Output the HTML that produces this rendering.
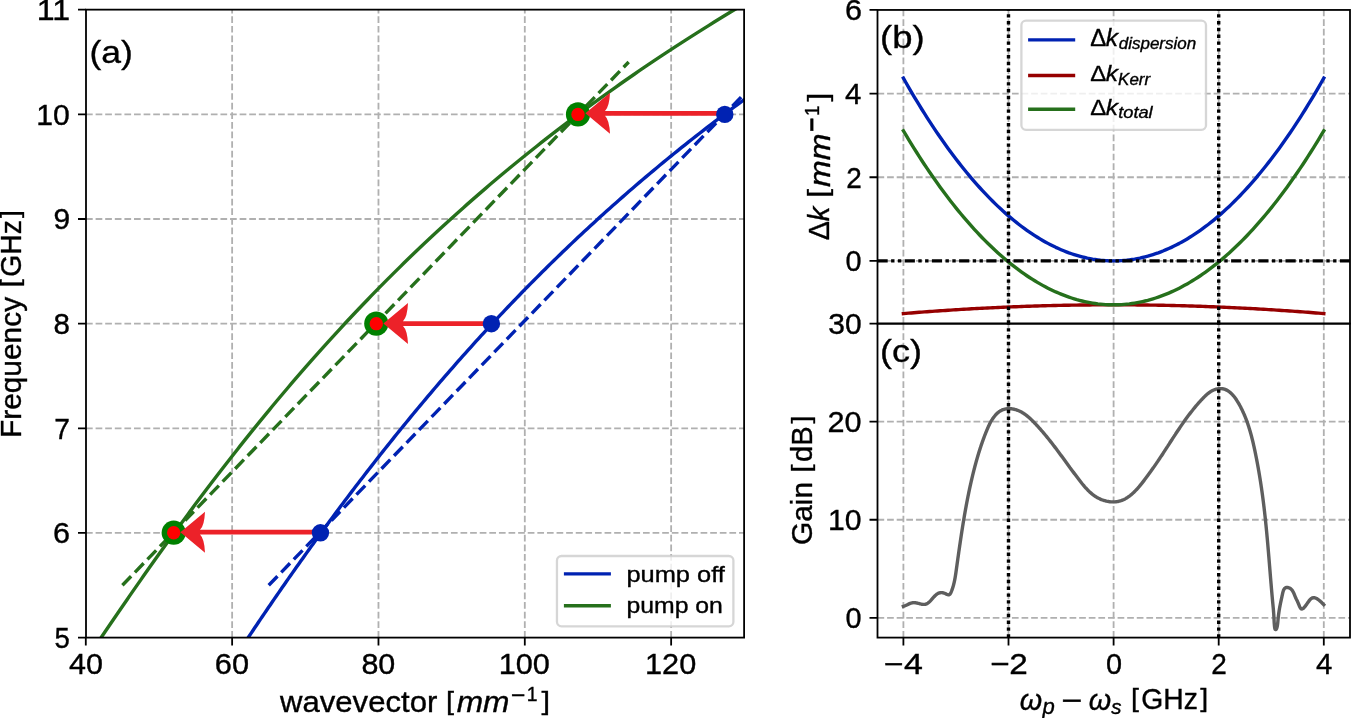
<!DOCTYPE html><html><head><meta charset="utf-8"><title>figure</title><style>html,body{margin:0;padding:0;background:#fff;}svg{display:block;}text{font-family:"Liberation Sans",sans-serif;}svg{will-change:transform;}</style></head><body><svg width="1351" height="718" viewBox="0 0 1351 718">
<defs>
<clipPath id="cl"><rect x="86.0" y="9.65" width="658.1" height="627.95"/></clipPath>
<clipPath id="cb"><rect x="877.5" y="9.95" width="472.5" height="313.65000000000003"/></clipPath>
<clipPath id="cc"><rect x="877.5" y="323.6" width="472.5" height="314.0"/></clipPath>
</defs>
<rect width="1351" height="718" fill="#fff"/>
<g>
<path d="M232.13,637.6V9.65" stroke="#b0b0b0" stroke-width="1.81" stroke-dasharray="6.70 2.903" fill="none"/>
<path d="M378.47,637.6V9.65" stroke="#b0b0b0" stroke-width="1.81" stroke-dasharray="6.70 2.903" fill="none"/>
<path d="M524.8,637.6V9.65" stroke="#b0b0b0" stroke-width="1.81" stroke-dasharray="6.70 2.903" fill="none"/>
<path d="M671.14,637.6V9.65" stroke="#b0b0b0" stroke-width="1.81" stroke-dasharray="6.70 2.903" fill="none"/>
<path d="M86.0,532.95H744.1" stroke="#b0b0b0" stroke-width="1.81" stroke-dasharray="6.70 2.903" fill="none"/>
<path d="M86.0,428.3H744.1" stroke="#b0b0b0" stroke-width="1.81" stroke-dasharray="6.70 2.903" fill="none"/>
<path d="M86.0,323.65H744.1" stroke="#b0b0b0" stroke-width="1.81" stroke-dasharray="6.70 2.903" fill="none"/>
<path d="M86.0,219H744.1" stroke="#b0b0b0" stroke-width="1.81" stroke-dasharray="6.70 2.903" fill="none"/>
<path d="M86.0,114.35H744.1" stroke="#b0b0b0" stroke-width="1.81" stroke-dasharray="6.70 2.903" fill="none"/>
</g>
<g clip-path="url(#cl)" fill="none" stroke-width="3.4">
<path d="M241.26,648.06L243.17,645.17L245.09,642.28L247.00,639.39L248.93,636.50L250.86,633.60L252.79,630.71L254.73,627.82L256.67,624.93L258.62,622.03L260.57,619.14L262.52,616.25L264.49,613.36L266.45,610.46L268.42,607.57L270.40,604.68L272.38,601.79L274.37,598.90L276.36,596.00L278.35,593.11L280.35,590.22L282.36,587.33L284.37,584.43L286.39,581.54L288.41,578.65L290.43,575.76L292.46,572.86L294.50,569.97L296.54,567.08L298.59,564.19L300.64,561.29L302.70,558.40L304.76,555.51L306.83,552.62L308.90,549.73L310.98,546.83L313.07,543.94L315.16,541.05L317.25,538.16L319.35,535.26L321.46,532.37L323.57,529.48L325.69,526.59L327.81,523.69L329.94,520.80L332.08,517.91L334.22,515.02L336.37,512.13L338.52,509.23L340.68,506.34L342.85,503.45L345.02,500.56L347.20,497.66L349.38,494.77L351.57,491.88L353.77,488.99L355.98,486.09L358.19,483.20L360.40,480.31L362.63,477.42L364.86,474.52L367.09,471.63L369.34,468.74L371.59,465.85L373.84,462.96L376.11,460.06L378.38,457.17L380.66,454.28L382.94,451.39L385.24,448.49L387.54,445.60L389.85,442.71L392.16,439.82L394.48,436.92L396.81,434.03L399.15,431.14L401.50,428.25L403.85,425.36L406.21,422.46L408.58,419.57L410.96,416.68L413.35,413.79L415.74,410.89L418.14,408.00L420.55,405.11L422.97,402.22L425.40,399.32L427.84,396.43L430.28,393.54L432.74,390.65L435.20,387.75L437.67,384.86L440.16,381.97L442.65,379.08L445.15,376.19L447.65,373.29L450.17,370.40L452.70,367.51L455.24,364.62L457.79,361.72L460.34,358.83L462.91,355.94L465.49,353.05L468.08,350.15L470.67,347.26L473.28,344.37L475.90,341.48L478.53,338.58L481.17,335.69L483.82,332.80L486.48,329.91L489.15,327.02L491.84,324.12L494.53,321.23L497.24,318.34L499.96,315.45L502.69,312.55L505.43,309.66L508.18,306.77L510.94,303.88L513.72,300.98L516.51,298.09L519.31,295.20L522.12,292.31L524.95,289.42L527.78,286.52L530.63,283.63L533.50,280.74L536.37,277.85L539.26,274.95L542.17,272.06L545.08,269.17L548.01,266.28L550.95,263.38L553.91,260.49L556.88,257.60L559.87,254.71L562.86,251.81L565.88,248.92L568.90,246.03L571.95,243.14L575.00,240.25L578.07,237.35L581.16,234.46L584.26,231.57L587.38,228.68L590.51,225.78L593.65,222.89L596.82,220.00L599.99,217.11L603.19,214.21L606.40,211.32L609.62,208.43L612.87,205.54L616.13,202.65L619.40,199.75L622.69,196.86L626.00,193.97L629.33,191.08L632.67,188.18L636.03,185.29L639.41,182.40L642.81,179.51L646.22,176.61L649.65,173.72L653.10,170.83L656.57,167.94L660.06,165.04L663.57,162.15L667.09,159.26L670.63,156.37L674.19,153.48L677.78,150.58L681.38,147.69L685.00,144.80L688.64,141.91L692.30,139.01L695.98,136.12L699.68,133.23L703.40,130.34L707.14,127.44L710.90,124.55L714.69,121.66L718.49,118.77L722.32,115.88L726.16,112.98L730.03,110.09L733.92,107.20L737.83,104.31L741.77,101.41L745.73,98.52L749.71,95.63L753.71,92.74L757.73,89.84L761.78,86.95L765.85,84.06L769.95,81.17L774.07,78.27L778.21,75.38L782.38,72.49" stroke="#0022b2" stroke-linejoin="round"/>
<path d="M268.72,585.27L775.03,62.02" stroke="#0022b2" stroke-dasharray="12.58 5.44"/>
<path d="M94.09,648.06L96.28,644.80L98.47,641.54L100.67,638.28L102.87,635.02L105.07,631.76L107.28,628.50L109.49,625.24L111.71,621.98L113.93,618.72L116.16,615.46L118.39,612.20L120.62,608.94L122.86,605.68L125.11,602.42L127.36,599.16L129.61,595.90L131.87,592.64L134.14,589.38L136.41,586.12L138.69,582.86L140.97,579.60L143.26,576.34L145.55,573.07L147.85,569.81L150.15,566.55L152.46,563.29L154.77,560.03L157.10,556.77L159.42,553.51L161.76,550.25L164.09,546.99L166.44,543.73L168.79,540.47L171.15,537.21L173.51,533.95L175.89,530.69L178.26,527.43L180.65,524.17L183.04,520.91L185.44,517.65L187.84,514.39L190.26,511.13L192.68,507.87L195.10,504.61L197.54,501.34L199.98,498.08L202.43,494.82L204.89,491.56L207.36,488.30L209.83,485.04L212.31,481.78L214.80,478.52L217.30,475.26L219.80,472.00L222.32,468.74L224.84,465.48L227.38,462.22L229.92,458.96L232.47,455.70L235.03,452.44L237.60,449.18L240.17,445.92L242.76,442.66L245.36,439.40L247.96,436.14L250.58,432.88L253.21,429.61L255.84,426.35L258.49,423.09L261.15,419.83L263.81,416.57L266.49,413.31L269.18,410.05L271.88,406.79L274.59,403.53L277.31,400.27L280.05,397.01L282.79,393.75L285.55,390.49L288.31,387.23L291.09,383.97L293.88,380.71L296.69,377.45L299.50,374.19L302.33,370.93L305.17,367.67L308.03,364.41L310.89,361.15L313.77,357.88L316.67,354.62L319.57,351.36L322.49,348.10L325.42,344.84L328.37,341.58L331.33,338.32L334.31,335.06L337.30,331.80L340.30,328.54L343.32,325.28L346.35,322.02L349.40,318.76L352.46,315.50L355.54,312.24L358.63,308.98L361.74,305.72L364.87,302.46L368.01,299.20L371.17,295.94L374.34,292.68L377.53,289.42L380.73,286.15L383.96,282.89L387.20,279.63L390.46,276.37L393.73,273.11L397.02,269.85L400.33,266.59L403.66,263.33L407.01,260.07L410.37,256.81L413.75,253.55L417.16,250.29L420.58,247.03L424.02,243.77L427.47,240.51L430.95,237.25L434.45,233.99L437.97,230.73L441.50,227.47L445.06,224.21L448.64,220.95L452.24,217.69L455.86,214.42L459.50,211.16L463.16,207.90L466.84,204.64L470.55,201.38L474.28,198.12L478.03,194.86L481.80,191.60L485.59,188.34L489.41,185.08L493.25,181.82L497.11,178.56L500.99,175.30L504.90,172.04L508.84,168.78L512.79,165.52L516.78,162.26L520.78,159.00L524.81,155.74L528.87,152.48L532.95,149.22L537.05,145.96L541.19,142.69L545.34,139.43L549.53,136.17L553.74,132.91L557.97,129.65L562.23,126.39L566.52,123.13L570.84,119.87L575.19,116.61L579.56,113.35L583.96,110.09L588.39,106.83L592.84,103.57L597.33,100.31L601.84,97.05L606.39,93.79L610.96,90.53L615.56,87.27L620.19,84.01L624.85,80.75L629.55,77.49L634.27,74.23L639.02,70.96L643.81,67.70L648.63,64.44L653.48,61.18L658.36,57.92L663.27,54.66L668.21,51.40L673.19,48.14L678.20,44.88L683.25,41.62L688.32,38.36L693.43,35.10L698.58,31.84L703.76,28.58L708.97,25.32L714.22,22.06L719.51,18.80L724.82,15.54L730.18,12.28L735.57,9.02L741.00,5.76L746.46,2.50L751.96,-0.76" stroke="#26701c" stroke-linejoin="round"/>
<path d="M122.38,585.27L628.70,62.02" stroke="#26701c" stroke-dasharray="12.58 5.44"/>
</g>
<circle cx="173.7" cy="532.7" r="12.1" fill="#008000"/>
<circle cx="173.7" cy="532.7" r="6.7" fill="#ff0000"/>
<circle cx="376.3" cy="323.65" r="12.1" fill="#008000"/>
<circle cx="376.3" cy="323.65" r="6.7" fill="#ff0000"/>
<circle cx="578.0" cy="114.4" r="12.1" fill="#008000"/>
<circle cx="578.0" cy="114.4" r="6.7" fill="#ff0000"/>
<path d="M180.4,532.2L205,511.7Q204.4,525.7 200,529.85L320.45,529.85L320.45,534.55L200,534.55Q204.4,538.7 205,552.7Z" fill="#ec2229"/>
<path d="M383.4,323.6L408,303.1Q407.4,317.1 403,321.25L491.4,321.25L491.4,325.95L403,325.95Q407.4,330.1 408,344.1Z" fill="#ec2229"/>
<path d="M585.4,113.3L610,92.8Q609.4,106.8 605,110.95L724.8,110.95L724.8,115.65L605,115.65Q609.4,119.8 610,133.8Z" fill="#ec2229"/>
<circle cx="320.45" cy="532.8" r="8.7" fill="#0022b2"/>
<circle cx="491.4" cy="323.7" r="8.7" fill="#0022b2"/>
<circle cx="724.8" cy="114.4" r="8.7" fill="#0022b2"/>
<rect x="556.96" y="556.0" width="176.44" height="70.4" rx="4.6" fill="#fff" fill-opacity="0.8" stroke="#cccccc" stroke-opacity="0.8" stroke-width="2.29"/>
<path d="M563.9,573.9H610.9" stroke="#0022b2" stroke-width="3.4"/>
<path d="M563.9,605.7H610.9" stroke="#26701c" stroke-width="3.4"/>
<rect x="86.0" y="9.65" width="658.1" height="627.95" fill="none" stroke="#000" stroke-width="1.8" stroke-linejoin="miter"/>
<path d="M78.0,637.6H86.0M78.0,532.95H86.0M78.0,428.3H86.0M78.0,323.65H86.0M78.0,219H86.0M78.0,114.35H86.0M78.0,9.7H86.0M85.8,637.6V645.6M232.13,637.6V645.6M378.47,637.6V645.6M524.8,637.6V645.6M671.14,637.6V645.6" stroke="#000" stroke-width="1.8"/>
<path d="M903.4,323.6V9.95" stroke="#b0b0b0" stroke-width="1.81" stroke-dasharray="6.70 2.903" fill="none"/><path d="M903.4,637.6V323.6" stroke="#b0b0b0" stroke-width="1.81" stroke-dasharray="6.70 2.903" fill="none"/><path d="M1113.6,323.6V9.95" stroke="#b0b0b0" stroke-width="1.81" stroke-dasharray="6.70 2.903" fill="none"/><path d="M1113.6,637.6V323.6" stroke="#b0b0b0" stroke-width="1.81" stroke-dasharray="6.70 2.903" fill="none"/><path d="M1323.8,323.6V9.95" stroke="#b0b0b0" stroke-width="1.81" stroke-dasharray="6.70 2.903" fill="none"/><path d="M1323.8,637.6V323.6" stroke="#b0b0b0" stroke-width="1.81" stroke-dasharray="6.70 2.903" fill="none"/><path d="M1008.5,323.6V9.95" stroke="#b0b0b0" stroke-width="1.81" stroke-dasharray="6.70 2.903" fill="none"/><path d="M1008.5,637.6V323.6" stroke="#b0b0b0" stroke-width="1.81" stroke-dasharray="6.70 2.903" fill="none"/><path d="M1218.7,323.6V9.95" stroke="#b0b0b0" stroke-width="1.81" stroke-dasharray="6.70 2.903" fill="none"/><path d="M1218.7,637.6V323.6" stroke="#b0b0b0" stroke-width="1.81" stroke-dasharray="6.70 2.903" fill="none"/><path d="M877.5,260.9H1350.0" stroke="#b0b0b0" stroke-width="1.81" stroke-dasharray="6.70 2.903" fill="none"/><path d="M877.5,177.25H1350.0" stroke="#b0b0b0" stroke-width="1.81" stroke-dasharray="6.70 2.903" fill="none"/><path d="M877.5,93.6H1350.0" stroke="#b0b0b0" stroke-width="1.81" stroke-dasharray="6.70 2.903" fill="none"/><path d="M877.5,617.85H1350.0" stroke="#b0b0b0" stroke-width="1.81" stroke-dasharray="6.70 2.903" fill="none"/><path d="M877.5,519.77H1350.0" stroke="#b0b0b0" stroke-width="1.81" stroke-dasharray="6.70 2.903" fill="none"/><path d="M877.5,421.68H1350.0" stroke="#b0b0b0" stroke-width="1.81" stroke-dasharray="6.70 2.903" fill="none"/>
<g clip-path="url(#cb)" fill="none" stroke-width="3.4" stroke-linejoin="round" stroke-linecap="square">
<path d="M903.40,78.14L906.03,82.77L908.65,87.34L911.28,91.84L913.91,96.28L916.54,100.66L919.16,104.98L921.79,109.24L924.42,113.43L927.05,117.56L929.67,121.63L932.30,125.64L934.93,129.59L937.56,133.48L940.18,137.31L942.81,141.08L945.44,144.78L948.07,148.43L950.69,152.01L953.32,155.54L955.95,159.00L958.58,162.41L961.20,165.75L963.83,169.04L966.46,172.27L969.09,175.43L971.71,178.54L974.34,181.59L976.97,184.58L979.60,187.51L982.22,190.39L984.85,193.20L987.48,195.95L990.11,198.65L992.73,201.29L995.36,203.87L997.99,206.39L1000.62,208.86L1003.24,211.26L1005.87,213.61L1008.50,215.90L1011.13,218.13L1013.75,220.31L1016.38,222.43L1019.01,224.49L1021.64,226.49L1024.26,228.43L1026.89,230.32L1029.52,232.15L1032.15,233.93L1034.77,235.64L1037.40,237.30L1040.03,238.91L1042.66,240.45L1045.28,241.94L1047.91,243.38L1050.54,244.75L1053.17,246.07L1055.79,247.34L1058.42,248.54L1061.05,249.69L1063.68,250.79L1066.30,251.82L1068.93,252.81L1071.56,253.73L1074.19,254.60L1076.81,255.41L1079.44,256.17L1082.07,256.87L1084.70,257.51L1087.32,258.10L1089.95,258.63L1092.58,259.11L1095.21,259.53L1097.83,259.89L1100.46,260.20L1103.09,260.45L1105.72,260.65L1108.35,260.79L1110.97,260.87L1113.60,260.90L1116.23,260.87L1118.86,260.79L1121.48,260.65L1124.11,260.45L1126.74,260.20L1129.37,259.89L1131.99,259.53L1134.62,259.11L1137.25,258.63L1139.88,258.10L1142.50,257.51L1145.13,256.87L1147.76,256.17L1150.38,255.41L1153.01,254.60L1155.64,253.73L1158.27,252.81L1160.89,251.82L1163.52,250.79L1166.15,249.69L1168.78,248.54L1171.40,247.34L1174.03,246.07L1176.66,244.75L1179.29,243.38L1181.91,241.94L1184.54,240.45L1187.17,238.91L1189.80,237.30L1192.42,235.64L1195.05,233.93L1197.68,232.15L1200.31,230.32L1202.93,228.43L1205.56,226.49L1208.19,224.49L1210.82,222.43L1213.44,220.31L1216.07,218.13L1218.70,215.90L1221.33,213.61L1223.95,211.26L1226.58,208.86L1229.21,206.39L1231.84,203.87L1234.46,201.29L1237.09,198.65L1239.72,195.95L1242.35,193.20L1244.97,190.39L1247.60,187.51L1250.23,184.58L1252.86,181.59L1255.48,178.54L1258.11,175.43L1260.74,172.27L1263.37,169.04L1265.99,165.75L1268.62,162.41L1271.25,159.00L1273.88,155.54L1276.50,152.01L1279.13,148.43L1281.76,144.78L1284.39,141.08L1287.01,137.31L1289.64,133.48L1292.27,129.59L1294.90,125.64L1297.52,121.63L1300.15,117.56L1302.78,113.43L1305.41,109.24L1308.03,104.98L1310.66,100.66L1313.29,96.28L1315.92,91.84L1318.54,87.34L1321.17,82.77L1323.80,78.14" stroke="#0022b2"/>
<path d="M903.40,313.58L906.03,313.36L908.65,313.15L911.28,312.94L913.91,312.73L916.54,312.52L919.16,312.32L921.79,312.12L924.42,311.92L927.05,311.72L929.67,311.53L932.30,311.34L934.93,311.15L937.56,310.97L940.18,310.78L942.81,310.60L945.44,310.43L948.07,310.25L950.69,310.08L953.32,309.91L955.95,309.75L958.58,309.58L961.20,309.42L963.83,309.27L966.46,309.11L969.09,308.96L971.71,308.81L974.34,308.66L976.97,308.52L979.60,308.38L982.22,308.24L984.85,308.11L987.48,307.97L990.11,307.84L992.73,307.71L995.36,307.59L997.99,307.47L1000.62,307.35L1003.24,307.23L1005.87,307.12L1008.50,307.01L1011.13,306.90L1013.75,306.79L1016.38,306.69L1019.01,306.59L1021.64,306.49L1024.26,306.40L1026.89,306.31L1029.52,306.22L1032.15,306.13L1034.77,306.05L1037.40,305.97L1040.03,305.89L1042.66,305.81L1045.28,305.74L1047.91,305.67L1050.54,305.61L1053.17,305.54L1055.79,305.48L1058.42,305.42L1061.05,305.36L1063.68,305.31L1066.30,305.26L1068.93,305.21L1071.56,305.17L1074.19,305.12L1076.81,305.08L1079.44,305.05L1082.07,305.01L1084.70,304.98L1087.32,304.95L1089.95,304.93L1092.58,304.90L1095.21,304.88L1097.83,304.87L1100.46,304.85L1103.09,304.84L1105.72,304.83L1108.35,304.82L1110.97,304.82L1113.60,304.82L1116.23,304.82L1118.86,304.82L1121.48,304.83L1124.11,304.84L1126.74,304.85L1129.37,304.87L1131.99,304.88L1134.62,304.90L1137.25,304.93L1139.88,304.95L1142.50,304.98L1145.13,305.01L1147.76,305.05L1150.38,305.08L1153.01,305.12L1155.64,305.17L1158.27,305.21L1160.89,305.26L1163.52,305.31L1166.15,305.36L1168.78,305.42L1171.40,305.48L1174.03,305.54L1176.66,305.61L1179.29,305.67L1181.91,305.74L1184.54,305.81L1187.17,305.89L1189.80,305.97L1192.42,306.05L1195.05,306.13L1197.68,306.22L1200.31,306.31L1202.93,306.40L1205.56,306.49L1208.19,306.59L1210.82,306.69L1213.44,306.79L1216.07,306.90L1218.70,307.01L1221.33,307.12L1223.95,307.23L1226.58,307.35L1229.21,307.47L1231.84,307.59L1234.46,307.71L1237.09,307.84L1239.72,307.97L1242.35,308.11L1244.97,308.24L1247.60,308.38L1250.23,308.52L1252.86,308.66L1255.48,308.81L1258.11,308.96L1260.74,309.11L1263.37,309.27L1265.99,309.42L1268.62,309.58L1271.25,309.75L1273.88,309.91L1276.50,310.08L1279.13,310.25L1281.76,310.43L1284.39,310.60L1287.01,310.78L1289.64,310.97L1292.27,311.15L1294.90,311.34L1297.52,311.53L1300.15,311.72L1302.78,311.92L1305.41,312.12L1308.03,312.32L1310.66,312.52L1313.29,312.73L1315.92,312.94L1318.54,313.15L1321.17,313.36L1323.80,313.58" stroke="#960000"/>
<path d="M903.40,130.82L906.03,135.23L908.65,139.59L911.28,143.88L913.91,148.11L916.54,152.28L919.16,156.40L921.79,160.45L924.42,164.45L927.05,168.38L929.67,172.26L932.30,176.08L934.93,179.84L937.56,183.55L940.18,187.19L942.81,190.78L945.44,194.31L948.07,197.78L950.69,201.19L953.32,204.55L955.95,207.85L958.58,211.09L961.20,214.28L963.83,217.41L966.46,220.48L969.09,223.49L971.71,226.45L974.34,229.36L976.97,232.20L979.60,234.99L982.22,237.73L984.85,240.40L987.48,243.03L990.11,245.59L992.73,248.10L995.36,250.56L997.99,252.96L1000.62,255.30L1003.24,257.59L1005.87,259.83L1008.50,262.01L1011.13,264.13L1013.75,266.20L1016.38,268.22L1019.01,270.18L1021.64,272.08L1024.26,273.93L1026.89,275.73L1029.52,277.47L1032.15,279.16L1034.77,280.79L1037.40,282.37L1040.03,283.90L1042.66,285.37L1045.28,286.79L1047.91,288.15L1050.54,289.46L1053.17,290.71L1055.79,291.92L1058.42,293.06L1061.05,294.16L1063.68,295.20L1066.30,296.18L1068.93,297.12L1071.56,298.00L1074.19,298.82L1076.81,299.60L1079.44,300.32L1082.07,300.98L1084.70,301.59L1087.32,302.15L1089.95,302.66L1092.58,303.11L1095.21,303.51L1097.83,303.86L1100.46,304.15L1103.09,304.39L1105.72,304.58L1108.35,304.71L1110.97,304.79L1113.60,304.82L1116.23,304.79L1118.86,304.71L1121.48,304.58L1124.11,304.39L1126.74,304.15L1129.37,303.86L1131.99,303.51L1134.62,303.11L1137.25,302.66L1139.88,302.15L1142.50,301.59L1145.13,300.98L1147.76,300.32L1150.38,299.60L1153.01,298.82L1155.64,298.00L1158.27,297.12L1160.89,296.18L1163.52,295.20L1166.15,294.16L1168.78,293.06L1171.40,291.92L1174.03,290.71L1176.66,289.46L1179.29,288.15L1181.91,286.79L1184.54,285.37L1187.17,283.90L1189.80,282.37L1192.42,280.79L1195.05,279.16L1197.68,277.47L1200.31,275.73L1202.93,273.93L1205.56,272.08L1208.19,270.18L1210.82,268.22L1213.44,266.20L1216.07,264.13L1218.70,262.01L1221.33,259.83L1223.95,257.59L1226.58,255.30L1229.21,252.96L1231.84,250.56L1234.46,248.10L1237.09,245.59L1239.72,243.03L1242.35,240.40L1244.97,237.73L1247.60,234.99L1250.23,232.20L1252.86,229.36L1255.48,226.45L1258.11,223.49L1260.74,220.48L1263.37,217.41L1265.99,214.28L1268.62,211.09L1271.25,207.85L1273.88,204.55L1276.50,201.19L1279.13,197.78L1281.76,194.31L1284.39,190.78L1287.01,187.19L1289.64,183.55L1292.27,179.84L1294.90,176.08L1297.52,172.26L1300.15,168.38L1302.78,164.45L1305.41,160.45L1308.03,156.40L1310.66,152.28L1313.29,148.11L1315.92,143.88L1318.54,139.59L1321.17,135.23L1323.80,130.82" stroke="#26701c"/>
<path d="M877.5,260.9H1350.0" stroke="#000" stroke-linecap="butt" stroke-dasharray="10.2 3.4 3.4 3.4 3.4 3.4"/>
</g>
<g clip-path="url(#cc)" fill="none" stroke-width="3.4" stroke-linejoin="round" stroke-linecap="square">
<path d="M903.39,606.39L903.97,606.19L904.54,605.97L905.11,605.73L905.67,605.48L906.23,605.22L906.79,604.95L907.35,604.68L907.90,604.42L908.46,604.16L909.02,603.90L909.58,603.67L910.14,603.44L910.71,603.24L911.28,603.06L911.86,602.92L912.44,602.80L913.04,602.71L913.64,602.67L914.25,602.67L914.87,602.71L915.49,602.78L916.12,602.88L916.76,603.00L917.40,603.15L918.04,603.30L918.68,603.47L919.32,603.63L919.96,603.79L920.59,603.95L921.22,604.09L921.84,604.21L922.45,604.31L923.05,604.37L923.64,604.40L924.22,604.40L924.79,604.34L925.34,604.24L925.87,604.09L926.39,603.89L926.90,603.65L927.40,603.38L927.89,603.06L928.36,602.72L928.83,602.34L929.29,601.94L929.75,601.52L930.19,601.08L930.64,600.62L931.07,600.15L931.51,599.66L931.94,599.17L932.37,598.68L932.80,598.18L933.23,597.69L933.67,597.20L934.10,596.72L934.54,596.26L934.98,595.81L935.43,595.37L935.89,594.96L936.35,594.57L936.82,594.21L937.29,593.89L937.78,593.59L938.28,593.33L938.79,593.11L939.31,592.93L939.85,592.79L940.39,592.69L940.95,592.63L941.52,592.62L942.10,592.65L942.69,592.73L943.30,592.86L943.92,593.04L944.56,593.28L945.21,593.56L945.87,593.88L946.52,594.19L947.16,594.48L947.77,594.70L948.34,594.83L948.86,594.83L949.32,594.69L949.72,594.42L950.09,594.03L950.41,593.57L950.70,593.03L950.97,592.45L951.23,591.86L951.47,591.25L951.71,590.65L951.93,590.05L952.15,589.45L952.36,588.85L952.56,588.25L952.76,587.64L952.95,587.04L953.13,586.44L953.30,585.84L953.47,585.23L953.63,584.63L953.78,584.03L953.93,583.42L954.08,582.82L954.22,582.22L954.35,581.61L954.48,581.01L954.60,580.41L954.72,579.80L954.84,579.20L954.95,578.59L955.06,577.99L955.16,577.39L955.26,576.78L955.36,576.18L955.46,575.57L955.55,574.97L955.65,574.36L955.74,573.76L955.83,573.16L955.91,572.55L956.00,571.95L956.09,571.34L956.17,570.74L956.26,570.13L956.34,569.53L956.42,568.92L956.51,568.32L956.59,567.71L956.68,567.11L956.76,566.51L956.85,565.90L956.93,565.30L957.02,564.69L957.10,564.09L957.19,563.48L957.27,562.88L957.35,562.27L957.44,561.67L957.52,561.06L957.61,560.46L957.69,559.85L957.78,559.25L957.86,558.64L957.95,558.04L958.04,557.43L958.12,556.83L958.21,556.23L958.29,555.62L958.38,555.02L958.46,554.41L958.55,553.81L958.63,553.20L958.72,552.60L958.81,551.99L958.89,551.39L958.98,550.78L959.07,550.18L959.15,549.57L959.24,548.97L959.33,548.37L959.42,547.76L959.50,547.16L959.59,546.55L959.68,545.95L959.77,545.34L959.85,544.74L959.94,544.13L960.03,543.53L960.12,542.93L960.21,542.32L960.30,541.72L960.39,541.11L960.48,540.51L960.57,539.90L960.66,539.30L960.75,538.70L960.84,538.09L960.93,537.49L961.02,536.88L961.11,536.28L961.20,535.67L961.30,535.07L961.39,534.47L961.48,533.86L961.57,533.26L961.67,532.66L961.76,532.05L961.85,531.45L961.95,530.84L962.04,530.24L962.14,529.64L962.23,529.03L962.33,528.43L962.42,527.83L962.52,527.22L962.61,526.62L962.71,526.02L962.81,525.41L962.91,524.81L963.00,524.21L963.10,523.60L963.20,523.00L963.30,522.40L963.40,521.79L963.50,521.19L963.60,520.59L963.70,519.98L963.80,519.38L963.90,518.78L964.00,518.18L964.10,517.57L964.21,516.97L964.31,516.37L964.41,515.77L964.52,515.16L964.62,514.56L964.72,513.96L964.83,513.36L964.94,512.75L965.04,512.15L965.15,511.55L965.26,510.95L965.36,510.35L965.47,509.74L965.58,509.14L965.69,508.54L965.80,507.94L965.91,507.34L966.02,506.74L966.13,506.13L966.24,505.53L966.35,504.93L966.46,504.33L966.58,503.73L966.69,503.13L966.81,502.53L966.92,501.93L967.04,501.33L967.15,500.73L967.27,500.12L967.38,499.52L967.50,498.92L967.62,498.32L967.74,497.72L967.86,497.12L967.98,496.52L968.10,495.92L968.22,495.32L968.34,494.72L968.46,494.12L968.59,493.52L968.71,492.92L968.83,492.32L968.96,491.72L969.08,491.13L969.21,490.53L969.34,489.93L969.46,489.33L969.59,488.73L969.72,488.13L969.85,487.53L969.98,486.93L970.11,486.33L970.24,485.74L970.38,485.14L970.51,484.54L970.64,483.94L970.78,483.34L970.91,482.74L971.05,482.15L971.18,481.55L971.32,480.95L971.46,480.35L971.60,479.76L971.74,479.16L971.88,478.56L972.02,477.97L972.16,477.37L972.30,476.77L972.44,476.17L972.59,475.58L972.73,474.98L972.88,474.38L973.02,473.79L973.17,473.19L973.32,472.60L973.47,472.00L973.62,471.40L973.77,470.81L973.92,470.21L974.07,469.62L974.22,469.02L974.38,468.43L974.53,467.83L974.69,467.24L974.84,466.65L975.00,466.05L975.16,465.46L975.32,464.86L975.48,464.27L975.64,463.68L975.80,463.09L975.96,462.49L976.13,461.90L976.29,461.31L976.46,460.72L976.62,460.13L976.79,459.54L976.96,458.95L977.13,458.36L977.30,457.77L977.47,457.18L977.65,456.59L977.82,456.00L977.99,455.41L978.17,454.83L978.35,454.24L978.52,453.65L978.70,453.07L978.88,452.48L979.07,451.90L979.25,451.31L979.43,450.73L979.62,450.15L979.80,449.56L979.99,448.98L980.18,448.40L980.37,447.82L980.56,447.24L980.75,446.66L980.94,446.08L981.13,445.50L981.33,444.93L981.53,444.35L981.72,443.77L981.92,443.20L982.12,442.62L982.32,442.05L982.53,441.47L982.73,440.90L982.94,440.33L983.14,439.76L983.35,439.19L983.56,438.62L983.77,438.05L983.98,437.48L984.19,436.91L984.41,436.35L984.62,435.78L984.84,435.22L985.06,434.65L985.28,434.09L985.50,433.53L985.72,432.97L985.95,432.41L986.17,431.85L986.40,431.29L986.63,430.73L986.86,430.17L987.09,429.62L987.32,429.06L987.56,428.51L987.80,427.96L988.04,427.41L988.28,426.86L988.53,426.31L988.78,425.76L989.04,425.22L989.30,424.67L989.57,424.13L989.85,423.59L990.13,423.05L990.42,422.51L990.71,421.98L991.02,421.44L991.33,420.91L991.65,420.38L991.97,419.85L992.31,419.33L992.66,418.80L993.02,418.28L993.38,417.76L993.76,417.24L994.15,416.73L994.56,416.22L994.97,415.71L995.39,415.21L995.83,414.72L996.27,414.24L996.73,413.78L997.19,413.32L997.67,412.89L998.15,412.47L998.65,412.07L999.15,411.69L999.66,411.34L1000.19,411.01L1000.71,410.71L1001.25,410.42L1001.79,410.16L1002.34,409.92L1002.90,409.71L1003.46,409.51L1004.03,409.34L1004.60,409.18L1005.18,409.05L1005.76,408.94L1006.35,408.84L1006.94,408.77L1007.53,408.71L1008.12,408.67L1008.71,408.65L1009.31,408.65L1009.91,408.67L1010.51,408.70L1011.10,408.75L1011.70,408.81L1012.30,408.90L1012.90,408.99L1013.49,409.10L1014.08,409.23L1014.67,409.37L1015.26,409.53L1015.84,409.70L1016.42,409.88L1017.00,410.08L1017.57,410.28L1018.13,410.50L1018.69,410.74L1019.25,410.98L1019.80,411.24L1020.34,411.50L1020.88,411.78L1021.41,412.07L1021.94,412.36L1022.46,412.67L1022.98,412.99L1023.49,413.31L1024.00,413.65L1024.50,413.99L1025.00,414.34L1025.50,414.70L1025.99,415.06L1026.48,415.44L1026.96,415.82L1027.44,416.20L1027.91,416.60L1028.38,417.00L1028.85,417.40L1029.32,417.81L1029.78,418.23L1030.24,418.64L1030.69,419.07L1031.14,419.50L1031.59,419.93L1032.04,420.36L1032.48,420.80L1032.92,421.24L1033.36,421.69L1033.80,422.13L1034.23,422.58L1034.66,423.03L1035.09,423.48L1035.52,423.94L1035.94,424.39L1036.37,424.84L1036.79,425.30L1037.21,425.75L1037.63,426.21L1038.05,426.66L1038.46,427.12L1038.88,427.58L1039.29,428.04L1039.70,428.50L1040.11,428.96L1040.51,429.42L1040.92,429.88L1041.32,430.34L1041.73,430.80L1042.13,431.27L1042.53,431.73L1042.93,432.20L1043.32,432.66L1043.72,433.13L1044.12,433.59L1044.51,434.06L1044.90,434.53L1045.29,435.00L1045.68,435.47L1046.07,435.94L1046.46,436.41L1046.84,436.88L1047.23,437.35L1047.61,437.82L1047.99,438.29L1048.37,438.77L1048.75,439.24L1049.13,439.71L1049.51,440.19L1049.89,440.67L1050.27,441.14L1050.64,441.62L1051.02,442.09L1051.39,442.57L1051.76,443.05L1052.13,443.53L1052.51,444.01L1052.88,444.49L1053.25,444.97L1053.62,445.45L1053.98,445.93L1054.35,446.41L1054.72,446.89L1055.08,447.37L1055.45,447.85L1055.82,448.34L1056.18,448.82L1056.54,449.30L1056.91,449.79L1057.27,450.27L1057.63,450.76L1058.00,451.24L1058.36,451.73L1058.72,452.22L1059.08,452.70L1059.44,453.19L1059.80,453.68L1060.16,454.16L1060.52,454.65L1060.88,455.14L1061.24,455.63L1061.60,456.12L1061.96,456.61L1062.32,457.10L1062.68,457.58L1063.04,458.07L1063.40,458.56L1063.76,459.06L1064.11,459.55L1064.47,460.04L1064.83,460.53L1065.19,461.02L1065.55,461.51L1065.91,462.00L1066.27,462.50L1066.63,462.99L1066.99,463.48L1067.35,463.97L1067.71,464.47L1068.07,464.96L1068.43,465.45L1068.79,465.95L1069.15,466.44L1069.51,466.93L1069.87,467.43L1070.24,467.92L1070.60,468.42L1070.96,468.91L1071.33,469.41L1071.69,469.90L1072.06,470.40L1072.42,470.89L1072.79,471.39L1073.15,471.88L1073.52,472.38L1073.89,472.87L1074.26,473.37L1074.63,473.86L1075.00,474.36L1075.37,474.85L1075.74,475.35L1076.11,475.85L1076.48,476.34L1076.86,476.84L1077.23,477.33L1077.61,477.83L1077.99,478.33L1078.36,478.82L1078.74,479.32L1079.12,479.81L1079.50,480.31L1079.88,480.80L1080.27,481.30L1080.65,481.79L1081.04,482.28L1081.43,482.77L1081.82,483.26L1082.21,483.75L1082.61,484.23L1083.00,484.71L1083.40,485.19L1083.80,485.67L1084.21,486.15L1084.61,486.62L1085.02,487.08L1085.43,487.55L1085.85,488.01L1086.27,488.47L1086.69,488.92L1087.12,489.37L1087.54,489.81L1087.98,490.25L1088.41,490.69L1088.85,491.12L1089.30,491.54L1089.74,491.96L1090.19,492.37L1090.65,492.78L1091.11,493.18L1091.58,493.57L1092.05,493.96L1092.52,494.34L1093.00,494.71L1093.48,495.08L1093.97,495.44L1094.47,495.79L1094.97,496.13L1095.47,496.47L1095.98,496.79L1096.50,497.11L1097.02,497.42L1097.55,497.72L1098.08,498.01L1098.62,498.30L1099.17,498.57L1099.72,498.83L1100.28,499.08L1100.84,499.33L1101.41,499.56L1101.98,499.79L1102.56,500.00L1103.13,500.20L1103.72,500.39L1104.30,500.57L1104.89,500.74L1105.48,500.90L1106.08,501.05L1106.67,501.19L1107.27,501.31L1107.87,501.43L1108.47,501.53L1109.07,501.62L1109.67,501.70L1110.27,501.77L1110.88,501.82L1111.48,501.86L1112.08,501.89L1112.67,501.91L1113.27,501.91L1113.87,501.90L1114.46,501.88L1115.05,501.84L1115.64,501.80L1116.22,501.73L1116.81,501.66L1117.38,501.57L1117.96,501.46L1118.53,501.35L1119.09,501.21L1119.65,501.07L1120.21,500.91L1120.76,500.74L1121.31,500.55L1121.85,500.35L1122.39,500.14L1122.93,499.92L1123.46,499.68L1123.99,499.44L1124.51,499.18L1125.03,498.91L1125.54,498.63L1126.05,498.33L1126.56,498.03L1127.06,497.72L1127.56,497.40L1128.05,497.07L1128.55,496.72L1129.03,496.37L1129.52,496.01L1130.00,495.64L1130.48,495.27L1130.95,494.88L1131.42,494.49L1131.89,494.09L1132.35,493.68L1132.81,493.27L1133.27,492.85L1133.72,492.42L1134.17,491.98L1134.62,491.54L1135.06,491.10L1135.50,490.65L1135.94,490.19L1136.38,489.73L1136.81,489.26L1137.24,488.79L1137.66,488.32L1138.09,487.84L1138.51,487.35L1138.93,486.87L1139.34,486.38L1139.76,485.89L1140.17,485.39L1140.58,484.89L1140.98,484.39L1141.38,483.89L1141.79,483.39L1142.18,482.89L1142.58,482.38L1142.98,481.88L1143.37,481.37L1143.76,480.86L1144.15,480.36L1144.53,479.85L1144.92,479.34L1145.30,478.84L1145.68,478.33L1146.06,477.83L1146.43,477.33L1146.81,476.82L1147.18,476.32L1147.55,475.82L1147.92,475.32L1148.29,474.82L1148.65,474.32L1149.02,473.82L1149.38,473.32L1149.74,472.82L1150.10,472.32L1150.46,471.82L1150.82,471.33L1151.17,470.83L1151.53,470.33L1151.88,469.83L1152.23,469.34L1152.58,468.84L1152.93,468.34L1153.28,467.85L1153.63,467.35L1153.97,466.86L1154.32,466.36L1154.66,465.87L1155.00,465.37L1155.35,464.87L1155.69,464.38L1156.03,463.88L1156.37,463.39L1156.70,462.89L1157.04,462.40L1157.38,461.90L1157.71,461.40L1158.05,460.91L1158.38,460.41L1158.71,459.92L1159.05,459.42L1159.38,458.92L1159.71,458.43L1160.04,457.93L1160.37,457.43L1160.70,456.93L1161.03,456.43L1161.36,455.94L1161.69,455.44L1162.02,454.94L1162.35,454.44L1162.68,453.94L1163.01,453.44L1163.33,452.93L1163.66,452.43L1163.99,451.93L1164.32,451.43L1164.64,450.92L1164.97,450.42L1165.30,449.92L1165.63,449.41L1165.96,448.90L1166.28,448.40L1166.61,447.89L1166.94,447.38L1167.27,446.87L1167.60,446.37L1167.92,445.86L1168.25,445.35L1168.58,444.84L1168.91,444.33L1169.24,443.82L1169.57,443.30L1169.90,442.79L1170.23,442.28L1170.56,441.77L1170.89,441.26L1171.22,440.74L1171.55,440.23L1171.88,439.72L1172.22,439.21L1172.55,438.69L1172.88,438.18L1173.22,437.67L1173.55,437.15L1173.88,436.64L1174.22,436.13L1174.55,435.61L1174.89,435.10L1175.23,434.59L1175.56,434.07L1175.90,433.56L1176.24,433.05L1176.58,432.53L1176.92,432.02L1177.26,431.51L1177.60,431.00L1177.94,430.48L1178.28,429.97L1178.62,429.46L1178.97,428.95L1179.31,428.44L1179.66,427.93L1180.00,427.42L1180.35,426.91L1180.70,426.40L1181.04,425.89L1181.39,425.38L1181.74,424.87L1182.09,424.37L1182.45,423.86L1182.80,423.35L1183.15,422.85L1183.51,422.34L1183.86,421.84L1184.22,421.33L1184.58,420.83L1184.93,420.33L1185.29,419.83L1185.65,419.33L1186.02,418.83L1186.38,418.33L1186.74,417.83L1187.11,417.33L1187.47,416.83L1187.84,416.34L1188.21,415.84L1188.58,415.35L1188.95,414.86L1189.32,414.36L1189.69,413.87L1190.07,413.38L1190.44,412.89L1190.82,412.41L1191.20,411.92L1191.58,411.43L1191.96,410.95L1192.34,410.47L1192.73,409.99L1193.11,409.50L1193.50,409.03L1193.89,408.55L1194.28,408.07L1194.67,407.59L1195.06,407.12L1195.45,406.65L1195.85,406.18L1196.24,405.71L1196.64,405.24L1197.04,404.77L1197.44,404.30L1197.85,403.84L1198.25,403.38L1198.66,402.92L1199.07,402.46L1199.47,402.00L1199.89,401.54L1200.30,401.09L1200.71,400.64L1201.13,400.19L1201.55,399.74L1201.97,399.29L1202.39,398.84L1202.81,398.40L1203.24,397.96L1203.67,397.52L1204.10,397.08L1204.53,396.65L1204.97,396.22L1205.41,395.80L1205.85,395.38L1206.30,394.97L1206.75,394.57L1207.21,394.17L1207.67,393.79L1208.14,393.41L1208.62,393.04L1209.10,392.68L1209.58,392.33L1210.08,392.00L1210.58,391.67L1211.09,391.36L1211.60,391.06L1212.13,390.78L1212.66,390.51L1213.21,390.25L1213.76,390.01L1214.32,389.79L1214.89,389.58L1215.47,389.40L1216.05,389.23L1216.65,389.07L1217.25,388.94L1217.85,388.83L1218.46,388.74L1219.07,388.68L1219.68,388.63L1220.29,388.61L1220.90,388.61L1221.50,388.64L1222.11,388.70L1222.71,388.78L1223.31,388.89L1223.90,389.02L1224.48,389.19L1225.05,389.38L1225.62,389.60L1226.18,389.85L1226.73,390.12L1227.27,390.41L1227.80,390.73L1228.33,391.07L1228.84,391.43L1229.35,391.80L1229.84,392.20L1230.33,392.61L1230.81,393.03L1231.27,393.47L1231.73,393.91L1232.18,394.37L1232.62,394.84L1233.04,395.32L1233.46,395.80L1233.86,396.29L1234.26,396.78L1234.64,397.28L1235.01,397.78L1235.37,398.28L1235.73,398.78L1236.07,399.28L1236.41,399.79L1236.74,400.30L1237.06,400.81L1237.38,401.32L1237.70,401.83L1238.01,402.35L1238.32,402.87L1238.62,403.39L1238.92,403.91L1239.22,404.44L1239.52,404.96L1239.81,405.49L1240.09,406.02L1240.38,406.55L1240.66,407.08L1240.94,407.62L1241.21,408.16L1241.49,408.70L1241.75,409.24L1242.02,409.78L1242.28,410.32L1242.54,410.87L1242.80,411.41L1243.05,411.96L1243.30,412.51L1243.55,413.07L1243.80,413.62L1244.04,414.17L1244.28,414.73L1244.52,415.29L1244.75,415.85L1244.98,416.41L1245.21,416.97L1245.44,417.53L1245.66,418.10L1245.88,418.67L1246.10,419.23L1246.31,419.80L1246.53,420.37L1246.74,420.94L1246.95,421.52L1247.15,422.09L1247.36,422.66L1247.56,423.24L1247.76,423.82L1247.95,424.40L1248.15,424.98L1248.34,425.56L1248.53,426.14L1248.72,426.72L1248.91,427.30L1249.09,427.89L1249.27,428.47L1249.45,429.06L1249.63,429.64L1249.80,430.23L1249.98,430.82L1250.15,431.41L1250.32,432.00L1250.49,432.59L1250.66,433.18L1250.82,433.78L1250.98,434.37L1251.15,434.96L1251.31,435.56L1251.46,436.15L1251.62,436.75L1251.77,437.34L1251.93,437.94L1252.08,438.54L1252.23,439.14L1252.38,439.73L1252.53,440.33L1252.67,440.93L1252.82,441.53L1252.96,442.13L1253.10,442.73L1253.24,443.33L1253.38,443.93L1253.52,444.54L1253.66,445.14L1253.79,445.74L1253.93,446.34L1254.06,446.94L1254.19,447.55L1254.32,448.15L1254.46,448.75L1254.58,449.35L1254.71,449.96L1254.84,450.56L1254.97,451.16L1255.09,451.76L1255.22,452.37L1255.34,452.97L1255.47,453.57L1255.59,454.18L1255.71,454.78L1255.83,455.38L1255.95,455.98L1256.07,456.59L1256.19,457.19L1256.31,457.79L1256.43,458.39L1256.55,459.00L1256.66,459.60L1256.78,460.20L1256.90,460.80L1257.01,461.40L1257.12,462.00L1257.24,462.61L1257.35,463.21L1257.46,463.81L1257.57,464.41L1257.68,465.01L1257.79,465.61L1257.90,466.22L1258.01,466.82L1258.12,467.42L1258.23,468.02L1258.34,468.62L1258.44,469.22L1258.55,469.82L1258.65,470.42L1258.76,471.03L1258.86,471.63L1258.96,472.23L1259.07,472.83L1259.17,473.43L1259.27,474.03L1259.37,474.63L1259.47,475.23L1259.57,475.84L1259.67,476.44L1259.77,477.04L1259.86,477.64L1259.96,478.24L1260.06,478.84L1260.15,479.44L1260.25,480.04L1260.34,480.65L1260.44,481.25L1260.53,481.85L1260.62,482.45L1260.72,483.05L1260.81,483.65L1260.90,484.25L1260.99,484.86L1261.08,485.46L1261.17,486.06L1261.26,486.66L1261.35,487.26L1261.44,487.86L1261.53,488.47L1261.61,489.07L1261.70,489.67L1261.79,490.27L1261.87,490.88L1261.96,491.48L1262.04,492.08L1262.13,492.68L1262.21,493.29L1262.29,493.89L1262.37,494.49L1262.46,495.09L1262.54,495.70L1262.62,496.30L1262.70,496.90L1262.78,497.51L1262.86,498.11L1262.94,498.71L1263.02,499.32L1263.10,499.92L1263.17,500.53L1263.25,501.13L1263.33,501.73L1263.41,502.34L1263.48,502.94L1263.56,503.55L1263.63,504.15L1263.71,504.76L1263.78,505.36L1263.85,505.97L1263.93,506.57L1264.00,507.18L1264.07,507.79L1264.15,508.39L1264.22,509.00L1264.29,509.60L1264.36,510.21L1264.43,510.82L1264.50,511.42L1264.57,512.03L1264.64,512.64L1264.71,513.25L1264.78,513.85L1264.84,514.46L1264.91,515.07L1264.98,515.68L1265.05,516.29L1265.11,516.89L1265.18,517.50L1265.25,518.11L1265.31,518.72L1265.38,519.33L1265.44,519.94L1265.50,520.55L1265.57,521.16L1265.63,521.77L1265.70,522.38L1265.76,522.99L1265.82,523.60L1265.88,524.21L1265.95,524.82L1266.01,525.44L1266.07,526.05L1266.13,526.66L1266.19,527.27L1266.25,527.88L1266.31,528.50L1266.37,529.11L1266.43,529.72L1266.49,530.33L1266.55,530.95L1266.61,531.56L1266.67,532.17L1266.72,532.78L1266.78,533.40L1266.84,534.01L1266.90,534.62L1266.95,535.24L1267.01,535.85L1267.07,536.46L1267.12,537.08L1267.18,537.69L1267.24,538.31L1267.29,538.92L1267.35,539.53L1267.40,540.15L1267.46,540.76L1267.51,541.38L1267.57,541.99L1267.62,542.60L1267.68,543.22L1267.73,543.83L1267.78,544.44L1267.84,545.06L1267.89,545.67L1267.94,546.29L1268.00,546.90L1268.05,547.51L1268.10,548.13L1268.15,548.74L1268.21,549.35L1268.26,549.97L1268.31,550.58L1268.36,551.20L1268.42,551.81L1268.47,552.42L1268.52,553.03L1268.57,553.65L1268.62,554.26L1268.67,554.87L1268.72,555.49L1268.77,556.10L1268.83,556.71L1268.88,557.32L1268.93,557.94L1268.98,558.55L1269.03,559.16L1269.08,559.77L1269.13,560.38L1269.18,560.99L1269.23,561.61L1269.28,562.22L1269.33,562.83L1269.38,563.44L1269.43,564.05L1269.48,564.66L1269.53,565.27L1269.58,565.88L1269.63,566.49L1269.68,567.10L1269.73,567.71L1269.78,568.32L1269.83,568.92L1269.88,569.53L1269.93,570.14L1269.98,570.75L1270.03,571.36L1270.08,571.96L1270.13,572.57L1270.18,573.18L1270.22,573.78L1270.27,574.39L1270.32,575.00L1270.37,575.60L1270.42,576.21L1270.47,576.81L1270.52,577.42L1270.57,578.02L1270.62,578.62L1270.67,579.23L1270.72,579.83L1270.77,580.43L1270.82,581.04L1270.87,581.64L1270.92,582.24L1270.97,582.84L1271.02,583.44L1271.08,584.04L1271.13,584.64L1271.18,585.24L1271.23,585.84L1271.28,586.44L1271.33,587.04L1271.38,587.64L1271.43,588.23L1271.48,588.83L1271.53,589.43L1271.59,590.02L1271.64,590.62L1271.69,591.21L1271.74,591.81L1271.79,592.40L1271.85,593.00L1271.90,593.59L1271.95,594.18L1272.00,594.78L1272.06,595.37L1272.11,595.96L1272.16,596.55L1272.22,597.14L1272.27,597.73L1272.32,598.32L1272.38,598.91L1272.43,599.50L1272.49,600.08L1272.54,600.67L1272.60,601.26L1272.65,601.84L1272.71,602.43L1272.76,603.01L1272.82,603.60L1272.87,604.18L1272.93,604.76L1272.99,605.35L1273.04,605.94L1273.10,606.53L1273.16,607.12L1273.21,607.72L1273.27,608.33L1273.32,608.94L1273.38,609.57L1273.43,610.20L1273.48,610.83L1273.54,611.48L1273.59,612.15L1273.64,612.82L1273.69,613.51L1273.74,614.21L1273.79,614.93L1273.83,615.66L1273.88,616.41L1273.92,617.18L1273.96,617.96L1274.01,618.77L1274.05,619.59L1274.09,620.42L1274.13,621.25L1274.17,622.08L1274.22,622.89L1274.27,623.70L1274.33,624.47L1274.39,625.22L1274.46,625.93L1274.53,626.60L1274.62,627.21L1274.71,627.78L1274.82,628.28L1274.93,628.71L1275.06,629.06L1275.21,629.33L1275.36,629.52L1275.53,629.61L1275.72,629.60L1275.93,629.48L1276.15,629.26L1276.36,628.95L1276.57,628.58L1276.75,628.14L1276.91,627.66L1277.06,627.13L1277.20,626.55L1277.32,625.94L1277.43,625.30L1277.52,624.63L1277.61,623.95L1277.69,623.24L1277.77,622.52L1277.84,621.80L1277.90,621.07L1277.97,620.35L1278.03,619.64L1278.10,618.94L1278.17,618.25L1278.24,617.58L1278.31,616.92L1278.38,616.27L1278.46,615.63L1278.53,615.00L1278.61,614.38L1278.69,613.77L1278.77,613.17L1278.85,612.58L1278.94,611.99L1279.03,611.41L1279.11,610.84L1279.20,610.27L1279.30,609.70L1279.39,609.14L1279.49,608.59L1279.59,608.03L1279.69,607.48L1279.79,606.92L1279.89,606.37L1280.00,605.82L1280.11,605.26L1280.22,604.71L1280.33,604.15L1280.44,603.59L1280.56,603.02L1280.68,602.46L1280.80,601.88L1280.92,601.30L1281.05,600.72L1281.17,600.13L1281.30,599.53L1281.43,598.92L1281.57,598.30L1281.70,597.68L1281.84,597.04L1281.98,596.39L1282.13,595.73L1282.27,595.06L1282.42,594.38L1282.57,593.68L1282.72,592.98L1282.89,592.28L1283.08,591.60L1283.28,590.94L1283.50,590.31L1283.76,589.72L1284.05,589.18L1284.37,588.71L1284.74,588.30L1285.16,587.97L1285.62,587.72L1286.11,587.55L1286.64,587.46L1287.19,587.44L1287.75,587.48L1288.32,587.59L1288.88,587.76L1289.43,587.98L1289.96,588.26L1290.46,588.59L1290.93,588.96L1291.37,589.37L1291.78,589.82L1292.16,590.30L1292.51,590.81L1292.84,591.34L1293.15,591.90L1293.45,592.47L1293.73,593.05L1293.99,593.65L1294.24,594.25L1294.49,594.85L1294.73,595.45L1294.96,596.04L1295.19,596.62L1295.42,597.18L1295.66,597.73L1295.90,598.26L1296.14,598.78L1296.39,599.29L1296.64,599.79L1296.89,600.30L1297.15,600.82L1297.41,601.36L1297.67,601.91L1297.93,602.49L1298.20,603.09L1298.47,603.73L1298.74,604.41L1299.02,605.10L1299.31,605.78L1299.60,606.45L1299.91,607.07L1300.22,607.64L1300.55,608.13L1300.90,608.53L1301.27,608.81L1301.65,608.96L1302.06,608.97L1302.48,608.84L1302.92,608.61L1303.36,608.28L1303.81,607.87L1304.25,607.42L1304.67,606.93L1305.09,606.42L1305.51,605.89L1305.91,605.34L1306.31,604.77L1306.70,604.20L1307.09,603.63L1307.48,603.06L1307.87,602.49L1308.26,601.93L1308.65,601.39L1309.04,600.87L1309.43,600.37L1309.83,599.90L1310.24,599.46L1310.66,599.05L1311.08,598.69L1311.51,598.38L1311.96,598.12L1312.41,597.91L1312.88,597.76L1313.37,597.68L1313.87,597.66L1314.39,597.71L1314.92,597.83L1315.46,598.01L1316.02,598.24L1316.57,598.53L1317.13,598.85L1317.69,599.21L1318.25,599.60L1318.80,600.02L1319.35,600.46L1319.88,600.91L1320.40,601.37L1320.90,601.84L1321.39,602.30L1321.85,602.75L1322.29,603.19L1322.70,603.61L1323.08,604.00L1323.43,604.36L1323.74,604.69" stroke="#5e5e5e"/>
</g>
<path d="M1008.5,323.6V9.95" stroke="#000" stroke-width="3.4" stroke-dasharray="3.4 3.4" fill="none"/>
<path d="M1008.5,637.6V323.6" stroke="#000" stroke-width="3.4" stroke-dasharray="3.4 3.4" fill="none"/>
<path d="M1218.7,323.6V9.95" stroke="#000" stroke-width="3.4" stroke-dasharray="3.4 3.4" fill="none"/>
<path d="M1218.7,637.6V323.6" stroke="#000" stroke-width="3.4" stroke-dasharray="3.4 3.4" fill="none"/>
<rect x="1021.4" y="20.7" width="184.6" height="109.1" rx="4.6" fill="#fff" fill-opacity="0.8" stroke="#cccccc" stroke-opacity="0.8" stroke-width="2.29"/>
<path d="M1028.1,39.9H1075.2" stroke="#0022b2" stroke-width="3.4"/>
<path d="M1028.1,75.5H1075.2" stroke="#960000" stroke-width="3.4"/>
<path d="M1028.1,109.2H1075.2" stroke="#26701c" stroke-width="3.4"/>
<rect x="877.5" y="9.95" width="472.5" height="313.65000000000003" fill="none" stroke="#000" stroke-width="1.8"/>
<rect x="877.5" y="323.6" width="472.5" height="314.0" fill="none" stroke="#000" stroke-width="1.8"/>
<path d="M869.5,260.9H877.5M869.5,177.25H877.5M869.5,93.6H877.5M869.5,9.95H877.5M869.5,617.85H877.5M869.5,519.77H877.5M869.5,421.68H877.5M869.5,323.6H877.5M903.4,637.6V645.6M1008.5,637.6V645.6M1113.6,637.6V645.6M1218.7,637.6V645.6M1323.8,637.6V645.6" stroke="#000" stroke-width="1.8"/>
<g font-family="Liberation Sans, sans-serif" fill="#000" stroke="#000" stroke-width="0.35">
<text transform="matrix(1.0000,0.0000,0.0000,1.0526,54.4000,647.9000)" font-size="27.5">5</text>
<text transform="matrix(1.1120,0.0000,0.0000,1.0597,53.0820,543.2500)" font-size="27.5">6</text>
<text transform="matrix(1.0240,0.0000,0.0000,1.0526,54.3140,438.6000)" font-size="27.5">7</text>
<text transform="matrix(1.0745,0.0000,0.0000,1.0597,53.6069,333.9500)" font-size="27.5">8</text>
<text transform="matrix(1.0902,0.0000,0.0000,1.0597,53.3873,229.3000)" font-size="27.5">9</text>
<text transform="matrix(1.0982,0.0000,0.0000,1.0597,36.2536,124.6500)" font-size="27.5">10</text>
<text transform="matrix(1.1683,0.0000,0.0000,1.0526,36.8134,20.0000)" font-size="27.5">11</text>
<text transform="matrix(1.1096,0.0000,0.0000,1.0597,69.0178,673.9000)" font-size="27.5">40</text>
<text transform="matrix(1.1179,0.0000,0.0000,1.0597,214.8072,673.9000)" font-size="27.5">60</text>
<text transform="matrix(1.1080,0.0000,0.0000,1.0597,361.4330,673.9000)" font-size="27.5">80</text>
<text transform="matrix(1.1158,0.0000,0.0000,1.0597,498.7204,673.9000)" font-size="27.5">100</text>
<text transform="matrix(1.1158,0.0000,0.0000,1.0597,645.0544,673.9000)" font-size="27.5">120</text>
<text transform="matrix(1.0491,0.0000,0.0000,1.0597,845.5009,271.2000)" font-size="27.5">0</text>
<text transform="matrix(1.0160,0.0000,0.0000,1.0597,846.2260,187.5500)" font-size="27.5">2</text>
<text transform="matrix(1.0691,0.0000,0.0000,1.0526,844.9482,103.9000)" font-size="27.5">4</text>
<text transform="matrix(1.1120,0.0000,0.0000,1.0597,844.8820,20.2500)" font-size="27.5">6</text>
<text transform="matrix(1.0491,0.0000,0.0000,1.0597,845.5009,628.1500)" font-size="27.5">0</text>
<text transform="matrix(1.0982,0.0000,0.0000,1.0597,828.0536,530.0670)" font-size="27.5">10</text>
<text transform="matrix(1.1143,0.0000,0.0000,1.0597,827.5786,431.9840)" font-size="27.5">20</text>
<text transform="matrix(1.0912,0.0000,0.0000,1.0597,828.2588,333.9010)" font-size="27.5">30</text>
<text transform="matrix(1.2342,0.0000,0.0000,1.0526,884.1073,674.1000)" font-size="27.5">−4</text>
<text transform="matrix(1.2104,0.0000,0.0000,1.0597,989.8870,674.1000)" font-size="27.5">−2</text>
<text transform="matrix(1.0491,0.0000,0.0000,1.0597,1105.9009,674.1000)" font-size="27.5">0</text>
<text transform="matrix(1.0160,0.0000,0.0000,1.0597,1211.1260,674.1000)" font-size="27.5">2</text>
<text transform="matrix(1.0691,0.0000,0.0000,1.0526,1315.9482,674.1000)" font-size="27.5">4</text>
<text transform="matrix(0.0000,-1.0863,1.0526,0.0000,20.8000,438.0441)" font-size="27.5">Frequency</text>
<text transform="matrix(0.0000,-1.0364,0.9515,0.0000,18.9291,287.1634)" font-size="27.5">[</text>
<text transform="matrix(0.0000,-1.0297,1.0597,0.0000,20.8000,276.8070)" font-size="27.5">GHz</text>
<text transform="matrix(0.0000,-1.0364,0.9515,0.0000,18.9291,217.8997)" font-size="27.5">]</text>
<text transform="matrix(0.0000,-1.0849,1.0450,0.0000,812.1000,545.0274)" font-size="27.5">Gain</text>
<text transform="matrix(0.0000,-1.0364,0.9515,0.0000,810.2291,472.5993)" font-size="27.5">[</text>
<text transform="matrix(0.0000,-1.0613,1.0450,0.0000,812.1000,462.0251)" font-size="27.5">dB</text>
<text transform="matrix(0.0000,-1.0364,0.9515,0.0000,810.2291,423.4357)" font-size="27.5">]</text>
<text transform="matrix(0.0000,-1.0388,1.0526,0.0000,828.8000,240.2791)" font-size="27.5">Δ</text>
<text transform="matrix(0.0000,-1.0526,1.0650,0.0000,829.1000,221.3263)" font-size="27.5" font-style="italic">k</text>
<text transform="matrix(0.0000,-1.1455,0.9748,0.0000,827.2951,197.6909)" font-size="27.5">[</text>
<text transform="matrix(0.0000,-1.1659,1.1051,0.0000,829.5000,186.9830)" font-size="27.5" font-style="italic">mm</text>
<text transform="matrix(0.0000,-1.2973,1.7600,0.0000,823.3200,132.0973)" font-size="19">−</text>
<text transform="matrix(0.0000,-0.9939,1.0615,0.0000,818.8000,115.9909)" font-size="19">1</text>
<text transform="matrix(0.0000,-1.1455,0.9748,0.0000,827.2951,101.5864)" font-size="27.5">]</text>
<text transform="matrix(1.1315,0.0000,0.0000,1.0873,280.0000,711.8000)" font-size="27.5">wavevector</text>
<text transform="matrix(1.0545,0.0000,0.0000,0.9553,445.8909,710.1068)" font-size="27.5">[</text>
<text transform="matrix(1.1523,0.0000,0.0000,1.0576,456.7239,711.6000)" font-size="27.5" font-style="italic">mm</text>
<text transform="matrix(1.2973,0.0000,0.0000,1.2000,511.1027,703.2000)" font-size="19">−</text>
<text transform="matrix(1.0182,0.0000,0.0000,1.0538,526.8727,701.3000)" font-size="19">1</text>
<text transform="matrix(1.1273,0.0000,0.0000,0.9476,541.4182,710.0515)" font-size="27.5">]</text>
<text transform="matrix(1.0462,0.0000,0.0000,1.0533,1019.6538,709.8367)" font-size="27.5" font-style="italic">ω</text>
<text transform="matrix(1.1619,0.0000,0.0000,1.1317,1042.4810,714.0000)" font-size="19" font-style="italic">p</text>
<text transform="matrix(1.3037,0.0000,0.0000,1.1429,1061.3704,711.2286)" font-size="27.5">−</text>
<text transform="matrix(1.0462,0.0000,0.0000,1.0533,1088.8538,709.8367)" font-size="27.5" font-style="italic">ω</text>
<text transform="matrix(1.0743,0.0000,0.0000,1.0857,1111.2314,713.9286)" font-size="19" font-style="italic">s</text>
<text transform="matrix(1.0364,0.0000,0.0000,0.9515,1130.8773,707.3291)" font-size="27.5">[</text>
<text transform="matrix(1.0297,0.0000,0.0000,1.0597,1141.2336,709.2000)" font-size="27.5">GHz</text>
<text transform="matrix(1.0364,0.0000,0.0000,0.9515,1200.1409,707.3291)" font-size="27.5">]</text>
<text transform="matrix(1.1114,0.0000,0.0000,0.9613,89.3771,63.4513)" font-size="32">(a)</text>
<text transform="matrix(1.1400,0.0000,0.0000,0.9714,880.0200,47.6857)" font-size="32">(b)</text>
<text transform="matrix(1.1248,0.0000,0.0000,0.9815,879.9504,361.7202)" font-size="32">(c)</text>
<text transform="matrix(1.1564,0.0000,0.0000,1.0438,626.4154,581.7000)" font-size="22">pump off</text>
<text transform="matrix(1.1269,0.0000,0.0000,1.0383,626.4597,612.9000)" font-size="22">pump on</text>
<text transform="matrix(1.0943,0.0000,0.0000,1.0667,1090.2792,46.0000)" font-size="22">Δ</text>
<text transform="matrix(1.1111,0.0000,0.0000,1.0562,1105.6444,46.0000)" font-size="22" font-style="italic">k</text>
<text transform="matrix(1.0648,0.0000,0.0000,1.0087,1118.6676,49.1000)" font-size="16" font-style="italic">dispersion</text>
<text transform="matrix(1.0943,0.0000,0.0000,1.0400,1090.2792,81.4000)" font-size="22">Δ</text>
<text transform="matrix(1.1111,0.0000,0.0000,1.0312,1105.6444,81.4000)" font-size="22" font-style="italic">k</text>
<text transform="matrix(1.0612,0.0000,0.0000,1.0222,1118.0694,84.8444)" font-size="16" font-style="italic">Kerr</text>
<text transform="matrix(1.0943,0.0000,0.0000,1.0133,1090.2792,114.6000)" font-size="22">Δ</text>
<text transform="matrix(1.1111,0.0000,0.0000,1.0062,1105.6444,114.6000)" font-size="22" font-style="italic">k</text>
<text transform="matrix(1.1429,0.0000,0.0000,1.0213,1118.1429,118.4447)" font-size="16" font-style="italic">total</text>
</g>
</svg></body></html>
